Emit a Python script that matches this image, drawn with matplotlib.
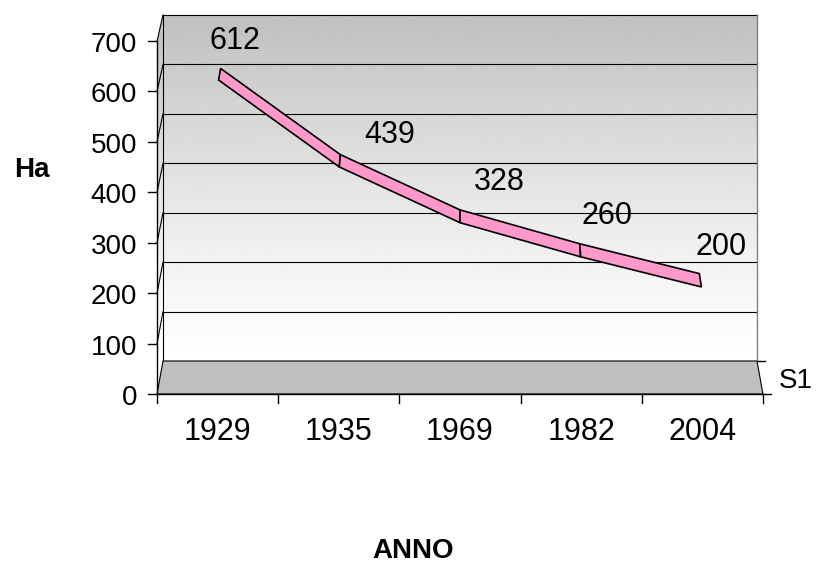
import numpy as np
import matplotlib
matplotlib.use('Agg')
import matplotlib.pyplot as plt
from matplotlib.patches import Polygon
from matplotlib.lines import Line2D
from matplotlib.transforms import Affine2D, IdentityTransform

plt.rcParams['font.family'] = ['Liberation Sans', 'DejaVu Sans']

# data
years = ['1929', '1935', '1969', '1982', '2004']
ha = [612, 439, 328, 260, 200]
y_ticks = [0, 100, 200, 300, 400, 500, 600, 700]
series_name = 'S1'

# layout, pixels
W, H = 819, 563
label_nudge = [(13, 9), (48, 1), (39, 9), (28, 8), (23, 7)]  # (right, up) from the back wall point
PINK = '#ff99cc'
FLOOR = '#c0c0c0'

fig = plt.figure(figsize=(W / 100, H / 100), dpi=100)
# the axes box is the back wall of the 3d chart
ax = fig.add_axes([163 / W, 202 / H, 594 / W, 346 / H])
n = len(years)
xs = np.arange(1, n + 1)
ax.set_xlim(0.5, n + 0.5)
ax.set_ylim(0, 700)
ax.axis('off')

cx, cy = ax.transData.transform(((n + 1) / 2, 0))


def depth(f):
    # f = 0 back wall, f = 1 front edge of the floor (slight perspective)
    s = 1 + 0.02 * f
    return ax.transData + Affine2D().translate(-cx, -cy).scale(s).translate(cx, cy - 33 * f)


def pt(f, x, y):
    return depth(f).transform((x, y))


def dline(p, q, **kw):
    ax.add_line(Line2D([p[0], q[0]], [p[1], q[1]], transform=IdentityTransform(),
                       clip_on=False, **kw))


x0, x1 = 0.5, n + 0.5
top = y_ticks[-1]

# walls with grey to white gradient
t = np.linspace(0, 1, 256)[:, None]
lum = 1 - 0.25 * np.clip((t - 0.08) / 0.92, 0, 1) ** 1.3
im = ax.imshow(lum, cmap='gray', vmin=0, vmax=1, origin='lower',
               extent=(x0 - 0.1, x1, -70, top), aspect='auto', zorder=0)
wall_shape = Polygon([pt(1, x0, 0), pt(1, x0, top), pt(0, x0, top), pt(0, x1, top),
                      pt(0, x1, 0), pt(0, x0, 0)], closed=True, transform=IdentityTransform())
im.set_clip_box(fig.bbox)
im.set_clip_path(wall_shape)
ax.set_xlim(x0, x1)
ax.set_ylim(0, top)

# gridlines on back and left walls
for v in y_ticks[1:]:
    dline(pt(0, x0, v), pt(0, x1, v), color='black', lw=0.8, zorder=1)
    dline(pt(1, x0, v), pt(0, x0, v), color='black', lw=0.8, zorder=1)
dline(pt(0, x0, 0), pt(0, x0, top), color='black', lw=0.8, zorder=1)
dline(pt(0, x1, 0), pt(0, x1, top), color='#808080', lw=1.0, zorder=1)

# floor
floor = Polygon([pt(0, x0, 0), pt(0, x1, 0), pt(1, x1, 0), pt(1, x0, 0)], closed=True,
                transform=IdentityTransform(), facecolor=FLOOR, edgecolor='black',
                lw=0.8, clip_on=False, zorder=2)
ax.add_patch(floor)

# value axis on the front left edge
dline(pt(1, x0, 0), pt(1, x0, top), color='black', lw=1.0, zorder=3)
for v in y_ticks:
    p = pt(1, x0, v)
    dline(p, (p[0] - 9, p[1]), color='black', lw=1.0, zorder=3)
    ax.text(x0, v, str(v), transform=depth(1) + Affine2D().translate(-20, -11),
            ha='right', va='baseline', fontsize=20, clip_on=False)

# category axis on the front edge
dline(pt(1, x0, 0), pt(1, x1, 0), color='black', lw=1.0, zorder=3)
for b in np.arange(x0, x1 + 0.01, 1.0):
    p = pt(1, b, 0)
    dline(p, (p[0], p[1] - 9), color='black', lw=1.0, zorder=3)
for x, lab in zip(xs, years):
    ax.text(x, 0, lab, transform=depth(1) + Affine2D().translate(0, -46),
            ha='center', va='baseline', fontsize=22, clip_on=False)

# series (depth) axis on the right
for f in (0, 1):
    p = pt(f, x1, 0)
    dline(p, (p[0] + 8, p[1]), color='black', lw=1.0, zorder=3)
ax.text(x1, 0, series_name, transform=depth(0.5) + Affine2D().translate(19, -10),
        ha='left', va='baseline', fontsize=20, clip_on=False)

# the 3d line as a ribbon
f_back, f_front = 0.37, 0.8
for i in range(n - 1):
    quad = [pt(f_back, xs[i], ha[i]), pt(f_back, xs[i + 1], ha[i + 1]),
            pt(f_front, xs[i + 1], ha[i + 1]), pt(f_front, xs[i], ha[i])]
    ax.add_patch(Polygon(quad, closed=True, transform=IdentityTransform(),
                         facecolor=PINK, edgecolor='black', lw=1.2,
                         joinstyle='miter', clip_on=False, zorder=4))

# data labels
for x, v, (dx, dy) in zip(xs, ha, label_nudge):
    ax.text(x, v, str(v), transform=depth(0) + Affine2D().translate(dx, dy),
            ha='center', va='baseline', fontsize=22, clip_on=False, zorder=5)

# axis titles
fig.text(32 / W, 1 - 177 / H, 'Ha', ha='center', va='baseline', fontsize=20, fontweight='bold')
fig.text(413 / W, 1 - 558 / H, 'ANNO', ha='center', va='baseline', fontsize=20, fontweight='bold')

fig.savefig('out.png', dpi=100)
